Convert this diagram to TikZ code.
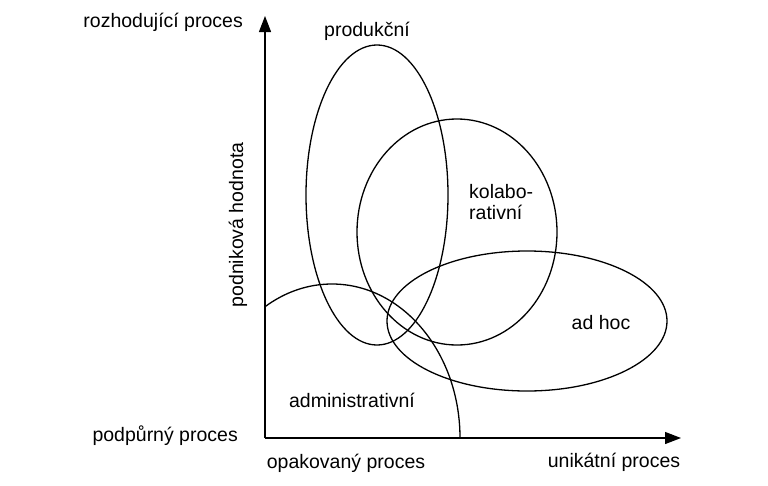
\documentclass[tikz,border=0pt]{standalone}
\usepackage{fontspec}
\setmainfont{Liberation Sans}
\usetikzlibrary{arrows.meta}
\begin{document}
\begin{tikzpicture}[x=1pt,y=-1pt,
  lbl/.style={inner sep=0pt,font=\fontsize{19.5}{21}\selectfont},
  axis/.style={line width=1.3pt,-{Triangle[length=16pt,width=12pt]}},
  set/.style={line width=1.3pt}]
  \useasboundingbox (0,0) rectangle (768,485);

  % axes
  \coordinate (O) at (265,438);
  \coordinate (ytop) at (265,16);
  \coordinate (xend) at (681,438);
  \draw[axis] (O) -- (ytop);
  \draw[axis] (O) -- (xend);

  % process sets
  \draw[set] (377,195) ellipse [x radius=71pt, y radius=150pt];
  \draw[set] (457,232) ellipse [x radius=100pt, y radius=113pt];
  \draw[set] (527,321) ellipse [x radius=140pt, y radius=70pt];
  \begin{scope}
    \clip (O) rectangle (768,0);
    \draw[set] (332,438) ellipse [x radius=128pt, y radius=154pt];
  \end{scope}

  % axis labels
  \node[lbl,anchor=east] (top) at (243,22) {rozhodující proces};
  \node[lbl,anchor=east] (bottom) at (238,436) {podpůrný proces};
  \node[lbl] (left) at (346,463) {opakovaný proces};
  \node[lbl] (right) at (614,462) {unikátní proces};
  \node[lbl,rotate=90] (value) at (238,225) {podniková hodnota};

  % set labels
  \node[lbl] (prod) at (367,31) {produkční};
  \node[lbl,anchor=west,align=left] (kolab) at (469,202) {kolabo-\\rativní};
  \node[lbl] (adhoc) at (601,323) {ad hoc};
  \node[lbl] (admin) at (352,400) {administrativní};
\end{tikzpicture}
\end{document}
